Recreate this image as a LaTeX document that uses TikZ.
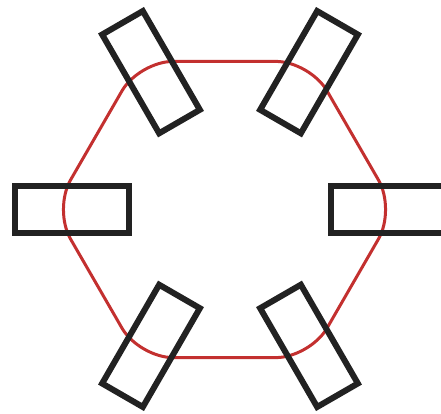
\documentclass[tikz,border=0pt]{standalone}
\usetikzlibrary{calc}
\definecolor{clrpad}{HTML}{222222}
\definecolor{clrring}{HTML}{C3302F}

\begin{document}
\begin{tikzpicture}[
    x=1pt, y=1pt,
    pad/.style={draw=clrpad, line width=6pt, rectangle, minimum width=114pt,
                minimum height=47pt, inner sep=0, outer sep=0},
    ring/.style={draw=clrring, line width=3pt, rounded corners=34pt},
]
\useasboundingbox (0,0) rectangle (441,-413);
\coordinate (hex_c) at (224.5,-209.5);
\coordinate (pad_c) at (230,-209);
% red hexagon track
\draw[ring] ($(hex_c)+(0:171)$) -- ($(hex_c)+(60:171)$) -- ($(hex_c)+(120:171)$)
    -- ($(hex_c)+(180:171)$) -- ($(hex_c)+(240:171)$) -- ($(hex_c)+(300:171)$) -- cycle;
% radial pads
\foreach \a [count=\i] in {0,60,...,300}
    \node[pad, rotate=\a] (pad_\i) at ($(pad_c)+(\a:158)$) {};
\end{tikzpicture}
\end{document}
